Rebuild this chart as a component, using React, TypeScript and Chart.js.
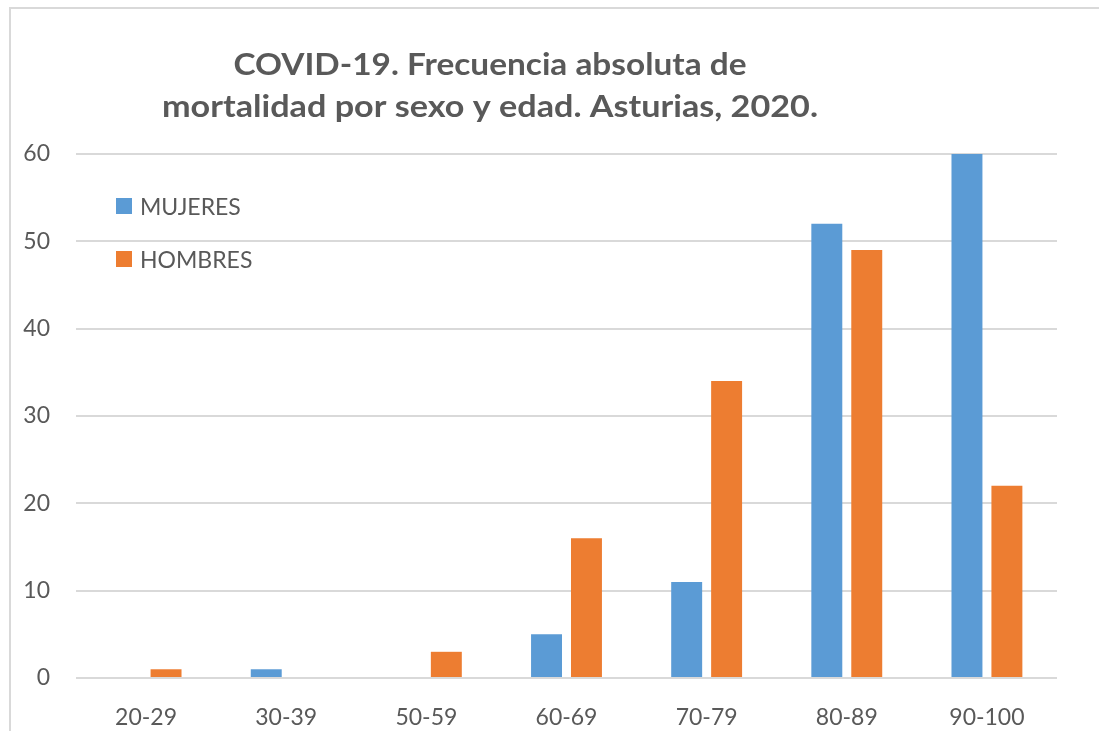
import React, { useEffect, useRef } from "react";
import { Chart, registerables } from "chart.js";

Chart.register(...registerables);

const categories = ["20-29", "30-39", "50-59", "60-69", "70-79", "80-89", "90-100"];
const mujeres = [0, 1, 0, 5, 11, 52, 60];
const hombres = [1, 0, 3, 16, 34, 49, 22];
const seriesNames = ["MUJERES", "HOMBRES"];
const titleLines = ["COVID-19. Frecuencia absoluta de", "mortalidad por sexo y edad. Asturias, 2020."];
const yTicks = { min: 0, max: 60, step: 10 };

const TEXT = "#595959";
const FONT = "Lato, 'Open Sans', sans-serif";

const overlayPlugin = {
  id: "overlay",
  afterDraw(chart: any) {
    const ctx = chart.ctx;
    ctx.save();
    // title
    ctx.fillStyle = TEXT;
    ctx.font = `bold 31px ${FONT}`;
    ctx.textAlign = "center";
    ctx.textBaseline = "alphabetic";
    const targets = [513, 656];
    const baselines = [75, 117];
    titleLines.forEach((line, i) => {
      const w = ctx.measureText(line).width;
      const sx = targets[i] / w;
      ctx.save();
      ctx.translate(490, baselines[i]);
      ctx.scale(sx, 1);
      ctx.fillText(line, 0, 0);
      ctx.restore();
    });
    // legend
    ctx.font = `23px ${FONT}`;
    ctx.textAlign = "left";
    ctx.textBaseline = "middle";
    chart.data.datasets.forEach((ds: any, i: number) => {
      const cy = 206.5 + i * 53;
      ctx.fillStyle = ds.backgroundColor;
      ctx.fillRect(116, cy - 8.5, 16, 16);
      ctx.fillStyle = TEXT;
      ctx.fillText(ds.label, 140, cy + 1);
    });
    ctx.restore();
  },
};

export default function App() {
  const ref = useRef<HTMLCanvasElement | null>(null);
  useEffect(() => {
    if (!ref.current) return;
    const chart = new Chart(ref.current, {
      type: "bar",
      data: {
        labels: categories,
        datasets: [
          { label: seriesNames[0], data: mujeres, backgroundColor: "#5B9BD5" },
          { label: seriesNames[1], data: hombres, backgroundColor: "#ED7D31" },
        ],
      },
      options: {
        animation: false,
        responsive: false,
        maintainAspectRatio: false,
        layout: { padding: { left: 0, right: 42, top: 154, bottom: 0 } },
        datasets: { bar: { barPercentage: 0.775, categoryPercentage: 0.57 } },
        plugins: { legend: { display: false }, title: { display: false }, tooltip: { enabled: false } },
        scales: {
          x: {
            grid: { display: false, drawTicks: false },
            border: { display: false },
            ticks: { color: TEXT, font: { family: FONT, size: 23 }, padding: 26 },
            afterFit: (s: any) => { s.height = 53; },
          },
          y: {
            min: yTicks.min,
            max: yTicks.max,
            grid: { color: "#D9D9D9", lineWidth: 2, drawTicks: false },
            border: { display: false },
            ticks: { stepSize: yTicks.step, color: TEXT, font: { family: FONT, size: 23 }, padding: 26 },
            afterFit: (s: any) => { s.width = 76; },
          },
        },
      },
      plugins: [overlayPlugin],
    });
    return () => chart.destroy();
  }, []);
  return (
    <div style={{ position: "absolute", left: 0, top: 0, width: 1099, height: 731, overflow: "hidden", background: "#fff" }}>
      <div style={{ position: "absolute", left: 9, top: 7, width: 1200, height: 800, borderLeft: "2px solid #D9D9D9", borderTop: "2px solid #D9D9D9" }} />
      <canvas ref={ref} width={1099} height={731} style={{ position: "absolute", left: 0, top: 0 }} />
    </div>
  );
}
